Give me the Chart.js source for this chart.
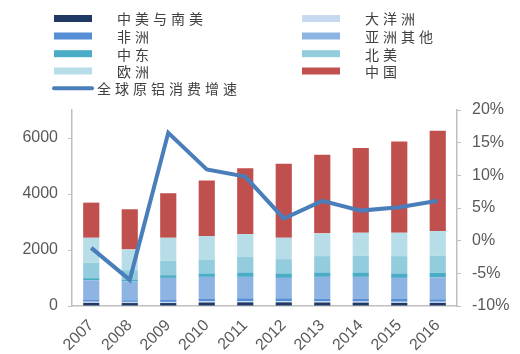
<!DOCTYPE html>
<html>
<head>
<meta charset="utf-8">
<script src="https://cdn.jsdelivr.net/npm/chart.js@4.4.0/dist/chart.umd.min.js"></script>
<style>
  html, body { margin: 0; padding: 0; background: #ffffff; }
  #wrap { width: 520px; height: 354px; position: relative; }
</style>
</head>
<body>
<div id="wrap"><canvas id="c" width="520" height="354"></canvas></div>
<script>
const categories = ['2007','2008','2009','2010','2011','2012','2013','2014','2015','2016'];
const southAmerica = [110,105,105,125,130,130,125,120,110,110];
const oceania      = [45,42,42,45,45,45,42,42,42,42];
const africa       = [74,57,82,95,101,101,93,98,98,88];
const asiaOther    = [692,670,775,775,764,728,780,780,754,778];
const middleEast   = [72,72,96,121,157,157,157,157,157,165];
const northAmerica = [548,334,513,502,559,513,584,595,620,609];
const europe       = [896,741,824,835,814,763,813,825,836,885];
const china        = [1255,1434,1591,1982,2354,2642,2807,3024,3261,3584];
const growth       = [-1.1,-6.0,16.5,10.9,9.8,3.4,6.1,4.6,5.1,6.1];
const leftTicks  = [0,2000,4000,6000];
const rightTicks = [-10,-5,0,5,10,15,20];

const barSeries = [
  ['中美与南美', southAmerica, '#1f3864'],
  ['大洋洲', oceania, '#c6d9f1'],
  ['非洲', africa, '#558ed5'],
  ['亚洲其他', asiaOther, '#8db4e2'],
  ['中东', middleEast, '#4bacc6'],
  ['北美', northAmerica, '#93cddd'],
  ['欧洲', europe, '#b7dee8'],
  ['中国', china, '#c0504d']
];
const lineLabel = '全球原铝消费增速';
const lineColor = '#4a7ebb';

const datasets = barSeries.map(([label, data, color]) => ({
  type: 'bar', label, data, backgroundColor: color, borderWidth: 0,
  yAxisID: 'y', stack: 's', order: 1,
  barPercentage: 0.42, categoryPercentage: 1.0
}));
datasets.push({
  type: 'line', label: lineLabel, data: growth, yAxisID: 'y1',
  borderColor: lineColor, backgroundColor: lineColor, borderWidth: 4,
  pointRadius: 0, tension: 0, order: 0
});

const legendPlugin = {
  id: 'customLegend',
  afterDraw(chart) {
    const ctx = chart.ctx;
    ctx.save();
    const rows = [18.5, 36, 53.7, 71];
    const pitch = 18;
    ctx.font = '14px "Noto Sans CJK SC"';
    ctx.textBaseline = 'middle';
    ctx.textAlign = 'left';
    const drawText = (txt, x, y) => {
      ctx.fillStyle = '#404040';
      [...txt].forEach((ch, i) => ctx.fillText(ch, x + i * pitch, y));
    };
    barSeries.forEach(([label, , color], i) => {
      const col = i % 2, row = Math.floor(i / 2);
      const bx = col === 0 ? 54 : 302;
      const tx = col === 0 ? 117 : 365;
      const y = rows[row];
      ctx.fillStyle = color;
      ctx.fillRect(bx, y - 3.5, 38, 7);
      drawText(label, tx, y + 0.5);
    });
    ctx.strokeStyle = lineColor;
    ctx.lineWidth = 4;
    ctx.lineCap = 'round';
    ctx.beginPath();
    ctx.moveTo(54, 88.3); ctx.lineTo(92, 88.3);
    ctx.stroke();
    drawText(lineLabel, 97, 88.8);
    ctx.restore();
  }
};

const tickFont = { family: '"Liberation Sans", Arial, sans-serif', size: 16 };
const tickColor = '#595959';
const axisColor = '#bfbfbf';

new Chart(document.getElementById('c'), {
  data: { labels: categories, datasets },
  options: {
    responsive: false,
    animation: false,
    layout: { padding: { top: 110, left: 0, right: 0, bottom: 0 } },
    plugins: { legend: { display: false }, tooltip: { enabled: false } },
    scales: {
      x: {
        stacked: true,
        grid: { display: false },
        border: { display: true, color: axisColor, width: 1.5 },
        ticks: { font: tickFont, color: tickColor, minRotation: 45, maxRotation: 45, padding: 2 },
        afterFit(s) { s.height = 48; }
      },
      y: {
        stacked: true, position: 'left', min: 0, max: 7000,
        grid: { drawOnChartArea: false, drawTicks: true, tickLength: 4, color: axisColor },
        border: { display: true, color: axisColor, width: 1.5 },
        ticks: { font: tickFont, color: tickColor, padding: 10, stepSize: 2000, callback: v => String(v) },
        afterBuildTicks(s) { s.ticks = leftTicks.map(v => ({ value: v })); },
        afterFit(s) { s.width = 72; }
      },
      y1: {
        position: 'right', min: -10, max: 20,
        grid: { drawOnChartArea: false, drawTicks: true, tickLength: 4, color: axisColor },
        border: { display: true, color: axisColor, width: 1.5 },
        ticks: { font: tickFont, color: tickColor, padding: 11, stepSize: 5, callback: v => v + '%' },
        afterBuildTicks(s) { s.ticks = rightTicks.map(v => ({ value: v })); },
        afterFit(s) { s.width = 63; }
      }
    }
  },
  plugins: [legendPlugin]
});
</script>
</body>
</html>
